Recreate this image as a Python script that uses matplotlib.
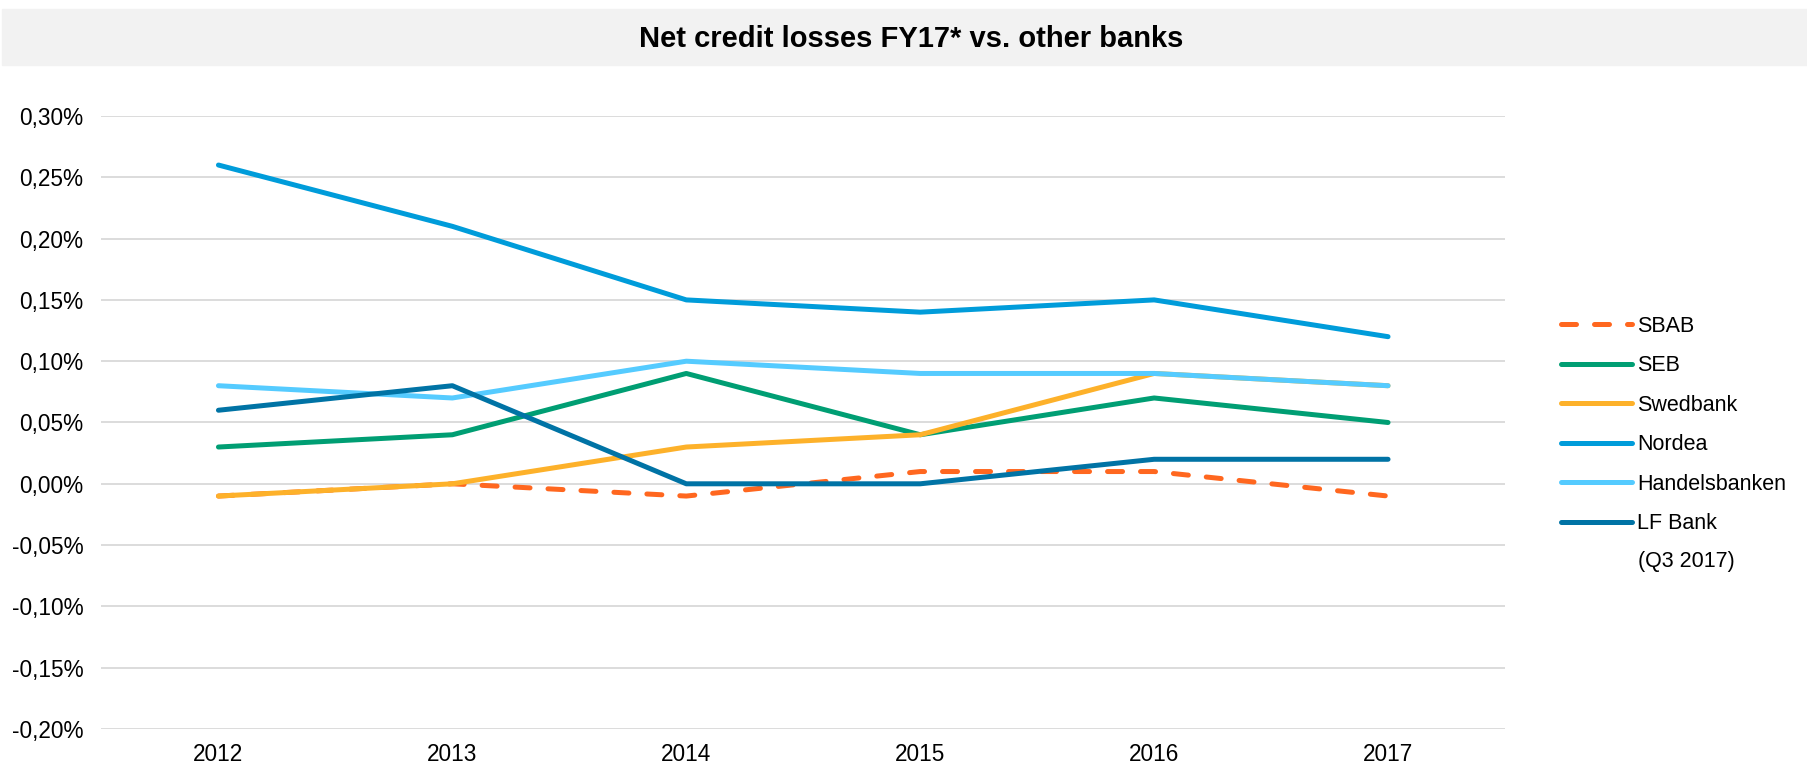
import matplotlib.pyplot as plt
import matplotlib.ticker as ticker
from matplotlib.patches import Rectangle

plt.rcParams['font.family'] = ['Liberation Sans', 'DejaVu Sans']

years = ["2012", "2013", "2014", "2015", "2016", "2017"]

# net credit losses in percent
sbab = [-0.01, 0.00, -0.01, 0.01, 0.01, -0.01]
seb = [0.03, 0.04, 0.09, 0.04, 0.07, 0.05]
swedbank = [-0.01, 0.00, 0.03, 0.04, 0.09, 0.08]
nordea = [0.26, 0.21, 0.15, 0.14, 0.15, 0.12]
handelsbanken = [0.08, 0.07, 0.10, 0.09, 0.09, 0.08]
lf_bank = [0.06, 0.08, 0.00, 0.00, 0.02, 0.02]

series = [
    ("SBAB", sbab, "#FF671F", True),
    ("SEB", seb, "#009E73", False),
    ("Swedbank", swedbank, "#FDB12A", False),
    ("Nordea", nordea, "#009CDA", False),
    ("Handelsbanken", handelsbanken, "#55CBFF", False),
    ("LF Bank", lf_bank, "#0073A5", False),
]

W, H = 1808, 765
fig = plt.figure(figsize=(W / 100, H / 100), dpi=100)

# grey title band
fig.patches.append(Rectangle((2 / W, 1 - 65 / H), 1 - 2 / W, 56 / H,
                             transform=fig.transFigure, color="#F2F2F2", zorder=0))
fig.text(0.504, 1 - 39 / H, "Net credit losses FY17* vs. other banks",
         ha="center", va="center", fontsize=21, fontweight="bold")

left, right = 101.5 / W, 1505 / W
bottom, top = 1 - 729 / H, 1 - 116 / H
ax = fig.add_axes([left, bottom, right - left, top - bottom])

x = list(range(len(years)))
handles = []
for name, vals, color, dashed in series:
    (ln,) = ax.plot(x, [v / 100 for v in vals], color=color, lw=3.6,
                    solid_capstyle="round", dash_capstyle="round",
                    solid_joinstyle="round", label=name)
    if dashed:
        ln.set_dashes((3.0, 3.6))
    handles.append(ln)

ax.set_xlim(-0.5, len(years) - 0.5)
ax.set_ylim(-0.002, 0.003)
ax.set_xticks(x)
ax.set_xticklabels(years)
ax.yaxis.set_major_locator(ticker.MultipleLocator(0.0005))
ax.yaxis.set_major_formatter(
    ticker.FuncFormatter(lambda v, _: f"{v * 100:.2f}%".replace(".", ",").replace("-0,00", "0,00")))
ax.grid(axis="y", color="#D9D9D9", lw=1.3)
ax.set_axisbelow(True)
for s in ax.spines.values():
    s.set_visible(False)
ax.tick_params(axis="both", length=0, labelsize=16.3)
ax.tick_params(axis="y", pad=13)
ax.tick_params(axis="x", pad=10)

leg = fig.legend(handles=handles, loc="upper left",
                 bbox_to_anchor=(1552 / W, 1 - 307 / H), frameon=False,
                 fontsize=15.5, handlelength=3.3, handletextpad=0.25,
                 labelspacing=0.86, borderaxespad=0)
fig.text(1638 / W, 1 - 561 / H, "(Q3 2017)", fontsize=15.5, va="center", ha="left")

fig.savefig("out.png", dpi=100)
